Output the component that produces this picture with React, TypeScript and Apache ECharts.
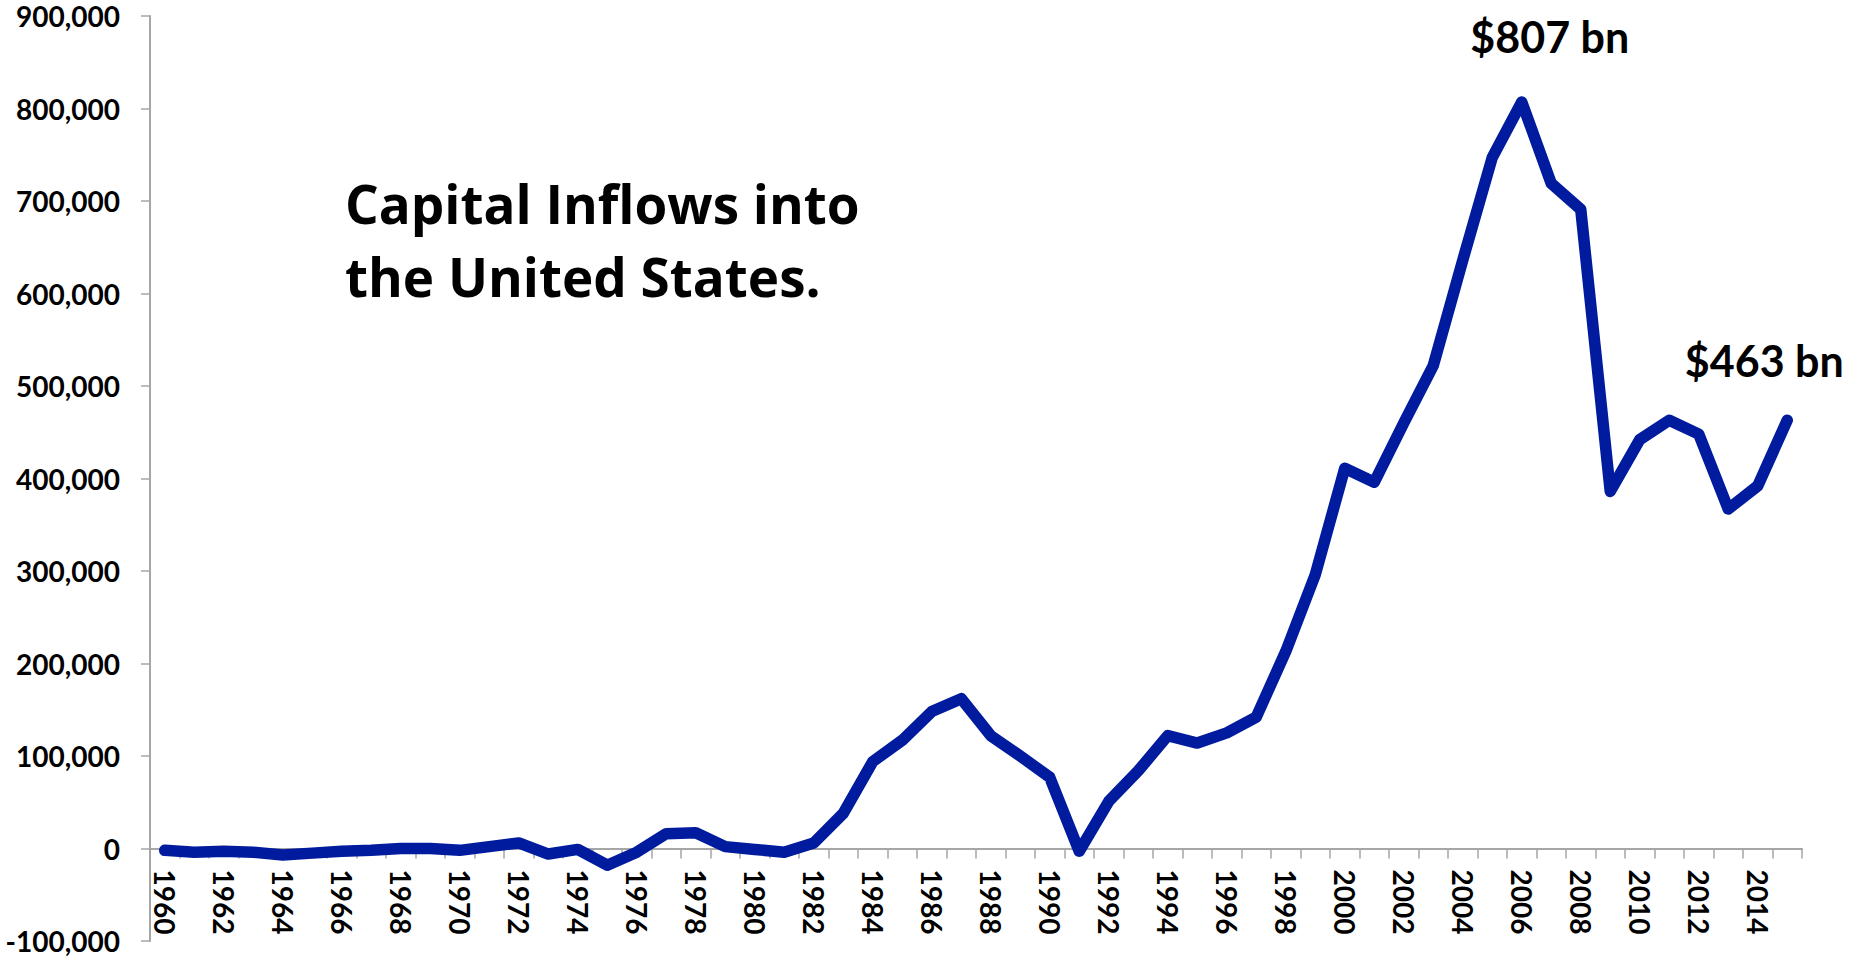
import React, { useEffect, useRef } from "react";
import * as echarts from "echarts";

const years: string[] = [
  "1960","1961","1962","1963","1964","1965","1966","1967","1968","1969",
  "1970","1971","1972","1973","1974","1975","1976","1977","1978","1979",
  "1980","1981","1982","1983","1984","1985","1986","1987","1988","1989",
  "1990","1991","1992","1993","1994","1995","1996","1997","1998","1999",
  "2000","2001","2002","2003","2004","2005","2006","2007","2008","2009",
  "2010","2011","2012","2013","2014","2015",
];

// Capital inflows, millions of US$
const inflows: number[] = [
  -2000, -4000, -3000, -4000, -7000, -5000, -3000, -2000, 0, 0,
  -2000, 2000, 6000, -6000, -1000, -18000, -4000, 16000, 17000, 2000,
  -1000, -4000, 6000, 38000, 94000, 117000, 148000, 162000, 122000, 100000,
  77000, -3000, 51000, 84000, 122000, 114000, 125000, 142000, 213000, 296000,
  411000, 396000, 460000, 522000, 636000, 747000, 807000, 719000, 691000, 386000,
  442000, 463000, 448000, 367000, 392000, 463000,
];

const yTicks = { min: -100000, max: 900000, interval: 100000 };
const titleLines: string[] = ["Capital Inflows into", "the United States."];
const annotated: string[] = ["2006", "2015"];

export default function App() {
  const ref = useRef<HTMLDivElement>(null);

  useEffect(() => {
    if (!ref.current) return;
    const chart = echarts.init(ref.current, undefined, { renderer: "svg" });
    const font = "Lato";
    const gridTop = 16;
    const gridHeight = 925;
    // distance (px) from the grid bottom (y = min) up to y = 0
    const zeroOffset =
      (gridHeight * (0 - yTicks.min)) / (yTicks.max - yTicks.min);
    const fmt = (v: number) => `$${Math.round(v / 1000)} bn`;
    const marks = annotated.map((yr, i) => {
      const idx = years.indexOf(yr);
      return {
        coord: [yr, inflows[idx]],
        value: inflows[idx],
        label: {
          offset: i === 0 ? [28, -66] : [-23, -60],
        },
      };
    });
    chart.setOption({
      animation: false,
      backgroundColor: "#ffffff",
      grid: {
        left: 150,
        right: 47,
        top: gridTop,
        height: gridHeight,
        containLabel: false,
        outerBoundsMode: "none",
      },
      xAxis: {
        type: "category",
        data: years,
        boundaryGap: true,
        position: "bottom",
        offset: -zeroOffset,
        axisLine: { onZero: false, lineStyle: { color: "#A6A6A6", width: 2 } },
        axisTick: { show: true, interval: 0, length: 10, lineStyle: { color: "#A6A6A6", width: 1.5 } },
        axisLabel: {
          interval: 1,
          rotate: -90,
          margin: 21,
          fontFamily: font,
          fontWeight: "bold",
          fontSize: 28,
          color: "#000",
        },
        splitLine: { show: false },
      },
      yAxis: {
        type: "value",
        min: yTicks.min,
        max: yTicks.max,
        interval: yTicks.interval,
        axisLine: { show: true, lineStyle: { color: "#A6A6A6", width: 2 } },
        axisTick: { show: true, length: 9, lineStyle: { color: "#A6A6A6", width: 1.5 } },
        axisLabel: {
          margin: 30,
          fontFamily: font,
          fontWeight: "bold",
          fontSize: 28,
          color: "#000",
          formatter: (v: number) => v.toLocaleString("en-US"),
        },
        splitLine: { show: false },
      },
      series: [
        {
          type: "line",
          data: inflows,
          symbol: "none",
          lineStyle: { color: "#001B9E", width: 11.5, cap: "round", join: "round" },
          itemStyle: { color: "#001B9E" },
          markPoint: {
            symbol: "circle",
            symbolSize: 1,
            itemStyle: { color: "rgba(0,0,0,0)" },
            label: {
              show: true,
              position: "inside",
              fontFamily: font,
              fontWeight: "bold",
              fontSize: 43,
              color: "#000",
              formatter: (p: any) => fmt(p.value),
            },
            data: marks,
          },
        },
      ],
      graphic: [
        {
          type: "text",
          left: 345,
          top: 167,
          style: {
            text: titleLines.join("\n"),
            font: `bold 53px "Open Sans"`,
            lineHeight: 73,
            fill: "#000",
          },
        },
      ],
    });
    return () => chart.dispose();
  }, []);

  return (
    <div
      ref={ref}
      style={{ position: "absolute", left: 0, top: 0, width: 1849, height: 957, background: "#fff" }}
    />
  );
}
